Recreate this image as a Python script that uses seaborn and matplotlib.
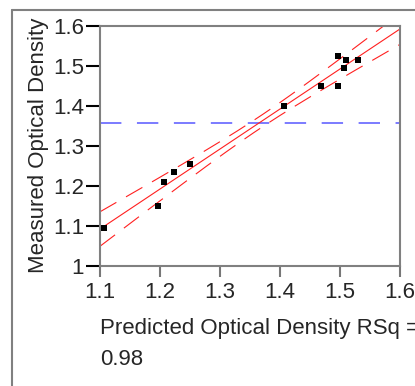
import numpy as np
import matplotlib
matplotlib.use("Agg")
import matplotlib.pyplot as plt
import seaborn as sns
from matplotlib.lines import Line2D

# data
predicted = [1.106, 1.196, 1.206, 1.223, 1.250, 1.406, 1.469, 1.496, 1.496, 1.510, 1.506, 1.530]
measured = [1.095, 1.150, 1.210, 1.235, 1.255, 1.400, 1.450, 1.450, 1.525, 1.515, 1.495, 1.515]
x_ticks = [1.1, 1.2, 1.3, 1.4, 1.5, 1.6]
y_ticks = [1.0, 1.1, 1.2, 1.3, 1.4, 1.5, 1.6]
y_tick_labels = ["1", "1.1", "1.2", "1.3", "1.4", "1.5", "1.6"]
rsq = "0.98"

# critical multipliers for the confidence curves (centre / slope part)
crit_center = 2.3
crit_slope = 3.4

sns.set_style("white")
plt.rcParams["font.family"] = ["Liberation Sans", "DejaVu Sans"]

fig = plt.figure(figsize=(4.15, 3.86), dpi=100)
ax = fig.add_axes([100 / 415, 120.3 / 386, 300 / 415, 240 / 386])

x = np.array(predicted)
y = np.array(measured)
slope, intercept = np.polyfit(x, y, 1)
resid = y - (slope * x + intercept)
s = np.sqrt(np.sum(resid ** 2) / (len(x) - 2))
xbar = x.mean()
sxx = np.sum((x - xbar) ** 2)

xs = np.linspace(1.1, 1.6, 200)
fit = slope * xs + intercept
half = np.sqrt((crit_center * s) ** 2 / len(x) + (crit_slope * s) ** 2 * (xs - xbar) ** 2 / sxx)

ax.axhline(y.mean(), color="#7b7bff", lw=1.4, dashes=(11, 8), zorder=1)
ax.plot(xs, fit, color="#ff2020", lw=0.8, zorder=2)
ax.plot(xs, fit + half, color="#ff2020", lw=0.8, dashes=(17, 10), zorder=2)
ax.plot(xs, fit - half, color="#ff2020", lw=0.8, dashes=(17, 10), zorder=2)

sns.scatterplot(x=predicted, y=measured, marker="s", s=24, color="black",
                linewidth=0, ax=ax, zorder=3)

fs = 16
ax.set_xlim(1.1, 1.6)
ax.set_ylim(1.0, 1.6)
ax.set_xticks(x_ticks)
ax.set_xticklabels([f"{v:.1f}" for v in x_ticks])
ax.set_yticks(y_ticks)
ax.set_yticklabels(y_tick_labels)
ax.tick_params(axis="y", direction="out", length=10, width=1.5, color="black",
               pad=1.5, labelsize=fs, left=True)
ax.tick_params(axis="x", direction="out", length=8, width=1.5, color="#777777",
               pad=4, labelsize=fs, bottom=True)
for sp in ax.spines.values():
    sp.set_color("#808080")
    sp.set_linewidth(1.5)

ax.set_ylabel("Measured Optical Density", fontsize=fs, labelpad=3)
fig.text(100 / 415, 1 - 318 / 386, "Predicted Optical Density RSq =\n" + rsq,
         ha="left", va="top", fontsize=fs, linespacing=1.62)

# outer frame
fig.add_artist(Line2D([12 / 415, 12 / 415], [0, 1 - 10 / 386], color="#808080", lw=1.5,
                      transform=fig.transFigure))
fig.add_artist(Line2D([12 / 415, 1], [1 - 10 / 386, 1 - 10 / 386], color="#808080", lw=1.5,
                      transform=fig.transFigure))

fig.savefig("out.png", dpi=100)
